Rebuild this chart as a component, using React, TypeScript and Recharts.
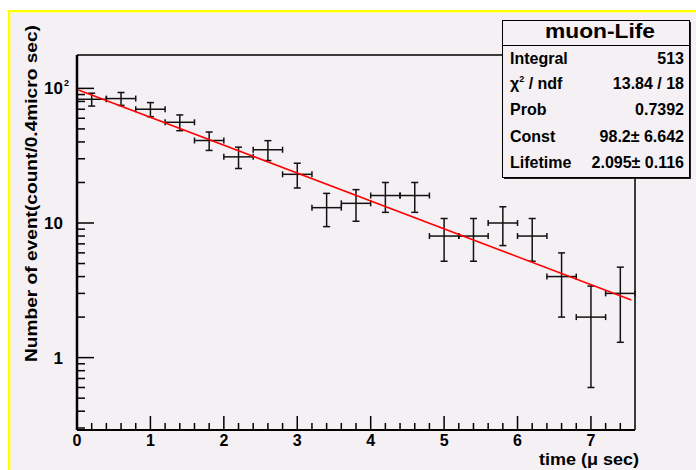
import React from "react";
import { ComposedChart, Scatter, XAxis, YAxis, ErrorBar, ReferenceLine } from "recharts";

// ---- data ----
const binCenters = [0.2, 0.6, 1.0, 1.4, 1.8, 2.2, 2.6, 3.0, 3.4, 3.8, 4.2, 4.6, 5.0, 5.4, 5.8, 6.2, 6.6, 7.0, 7.4];
const counts = [83, 84, 70, 56, 41, 31, 35, 23, 13, 14, 16, 16, 8, 8, 10, 8, 4, 2, 3];
const countErrors = [9.1, 9.2, 8.4, 7.5, 6.4, 5.6, 5.9, 4.8, 3.6, 3.7, 4.0, 4.0, 2.8, 2.8, 3.2, 2.8, 2.0, 1.4, 1.7];
const binHalfWidth = 0.2;

const fitTimes = [0.02, 7.55];
const fitValues = [97.3, 2.68];

const xTicks = [0, 0.2, 0.4, 0.6, 0.8, 1, 1.2, 1.4, 1.6, 1.8, 2, 2.2, 2.4, 2.6, 2.8, 3, 3.2, 3.4, 3.6, 3.8, 4, 4.2, 4.4, 4.6, 4.8, 5, 5.2, 5.4, 5.6, 5.8, 6, 6.2, 6.4, 6.6, 6.8, 7, 7.2, 7.4];
const xMajorTicks = [0, 1, 2, 3, 4, 5, 6, 7];
const yTicks = [0.3, 0.4, 0.5, 0.6, 0.7, 0.8, 0.9, 1, 2, 3, 4, 5, 6, 7, 8, 9, 10, 20, 30, 40, 50, 60, 70, 80, 90, 100];
const yMajorTicks = [1, 10, 100];
const yMajorLabels = ["1", "10", "10"];
const yMajorSup = ["", "", "2"];

const xDomain = [0, 7.6];
const yDomain = [0.29, 177];

const xTitle = "time (\u03bc sec)";
const yTitle = "Number of event(count/0.4micro sec)";

const statsTitle = "muon-Life";
const statLabels = ["Integral", "\u03c7", "Prob", "Const", "Lifetime"];
const statValues = ["513", "13.84 / 18", "0.7392", "98.2\u00b1 6.642", "2.095\u00b1 0.116"];

const FONT = "'Liberation Sans', Arial, Helvetica, sans-serif";
const BG = "#f4f0f4";

const histData = binCenters.map((t, i) => ({ t, n: counts[i], nerr: countErrors[i], terr: binHalfWidth }));
const fitData = fitTimes.map((t, i) => ({ t, n: fitValues[i] }));

const XTick = (props: any) => {
  const { x, y, payload } = props;
  const v = payload.value;
  const major = xMajorTicks.indexOf(v) >= 0;
  return (
    <g>
      <line x1={x} x2={x} y1={y} y2={y - (major ? 14 : 7)} stroke="#000" strokeWidth={1.5} />
      {major && (
        <text x={x} y={y + 16} textAnchor="middle" fontFamily={FONT} fontWeight="bold" fontSize={16} fill="#000">
          {String(v)}
        </text>
      )}
    </g>
  );
};

const YTick = (props: any) => {
  const { x, y, payload } = props;
  const v = payload.value;
  const idx = yMajorTicks.indexOf(v);
  const major = idx >= 0;
  return (
    <g>
      <line x1={x} x2={x + (major ? 17 : 8)} y1={y} y2={y} stroke="#000" strokeWidth={1.5} />
      {major && (
        <text x={x - 14} y={y + 6} textAnchor="end" fontFamily={FONT} fontWeight="bold" fontSize={17} fill="#000">
          {yMajorLabels[idx]}
        </text>
      )}
      {major && yMajorSup[idx] && (
        <text x={x - 13} y={y - 2} textAnchor="start" fontFamily={FONT} fontWeight="bold" fontSize={9} fill="#000">
          {yMajorSup[idx]}
        </text>
      )}
    </g>
  );
};

const NoShape = () => <g />;

export default function App() {
  const rowY = [64, 89, 115, 142, 168];
  return (
    <div style={{ position: "absolute", left: 0, top: 0, width: 696, height: 470, background: "#ffffff", overflow: "hidden" }}>
      <div
        style={{
          position: "absolute",
          left: 8,
          top: 10,
          width: 688,
          height: 460,
          boxSizing: "border-box",
          background: BG,
          borderLeft: "2px solid #ffff00",
          borderTop: "2px solid #ffff00",
          boxShadow: "inset 1px 1px 0 #ffffa0",
        }}
      />
      <div style={{ position: "absolute", left: 0, top: 0 }}>
        <ComposedChart width={696} height={470} margin={{ top: 55, right: 61, bottom: 10, left: 17 }}>
          <XAxis
            dataKey="t"
            type="number"
            domain={xDomain}
            allowDataOverflow
            ticks={xTicks}
            interval={0}
            tickSize={0}
            tickMargin={0}
            tickLine={false}
            tick={<XTick />}
            height={30}
            axisLine={{ stroke: "#000", strokeWidth: 2 }}
          />
          <YAxis
            dataKey="n"
            type="number"
            scale="log"
            domain={yDomain}
            allowDataOverflow
            ticks={yTicks}
            interval={0}
            tickSize={0}
            tickMargin={0}
            tickLine={false}
            tick={<YTick />}
            width={60}
            axisLine={{ stroke: "#000", strokeWidth: 2.5 }}
          />
          <ReferenceLine y={yDomain[1]} stroke="#000" strokeWidth={1.5} />
          <ReferenceLine x={xDomain[1]} stroke="#000" strokeWidth={1.5} />
          <Scatter data={histData} dataKey="n" shape={<NoShape />} isAnimationActive={false}>
            <ErrorBar dataKey="nerr" direction="y" width={3.5} stroke="#111" strokeWidth={1.5} isAnimationActive={false} />
            <ErrorBar dataKey="terr" direction="x" width={3} stroke="#111" strokeWidth={1.5} isAnimationActive={false} />
          </Scatter>
          <Scatter
            data={fitData}
            dataKey="n"
            shape={<NoShape />}
            line={{ stroke: "#ff0000", strokeWidth: 1.5 }}
            isAnimationActive={false}
          />
        </ComposedChart>
      </div>
      <svg width={696} height={470} style={{ position: "absolute", left: 0, top: 0, pointerEvents: "none" }}>
        <text
          transform="translate(36.5,193.5) rotate(-90)"
          textAnchor="middle"
          fontFamily={FONT}
          fontWeight="bold"
          fontSize={17}
          textLength={337}
          lengthAdjust="spacingAndGlyphs"
          fill="#000"
        >
          {yTitle}
        </text>
        <text x={639} y={465} textAnchor="end" fontFamily={FONT} fontWeight="bold" fontSize={16} textLength={100} lengthAdjust="spacingAndGlyphs" fill="#000">
          {xTitle}
        </text>
        {/* statistics box */}
        <rect x={504} y={22} width={187} height={157} fill="#222" />
        <rect x={502.5} y={20.5} width={187} height={157} fill={BG} stroke="#000" strokeWidth={1} />
        <line x1={502.5} x2={689.5} y1={45.5} y2={45.5} stroke="#000" strokeWidth={1} />
        <text x={600} y={38} textAnchor="middle" fontFamily={FONT} fontWeight="bold" fontSize={20} textLength={110} lengthAdjust="spacingAndGlyphs" fill="#000">
          {statsTitle}
        </text>
        {statLabels.map((lab, i) => (
          <text key={"l" + i} x={510} y={rowY[i]} fontFamily={FONT} fontWeight="bold" fontSize={16} fill="#000">
            {lab}
            {i === 1 && (
              <>
                <tspan fontSize={9} dy={-7}>2</tspan>
                <tspan dy={7}>{" / ndf"}</tspan>
              </>
            )}
          </text>
        ))}
        {statValues.map((val, i) => (
          <text key={"v" + i} x={684} y={rowY[i]} textAnchor="end" fontFamily={FONT} fontWeight="bold" fontSize={16} fill="#000">
            {val}
          </text>
        ))}
      </svg>
    </div>
  );
}
